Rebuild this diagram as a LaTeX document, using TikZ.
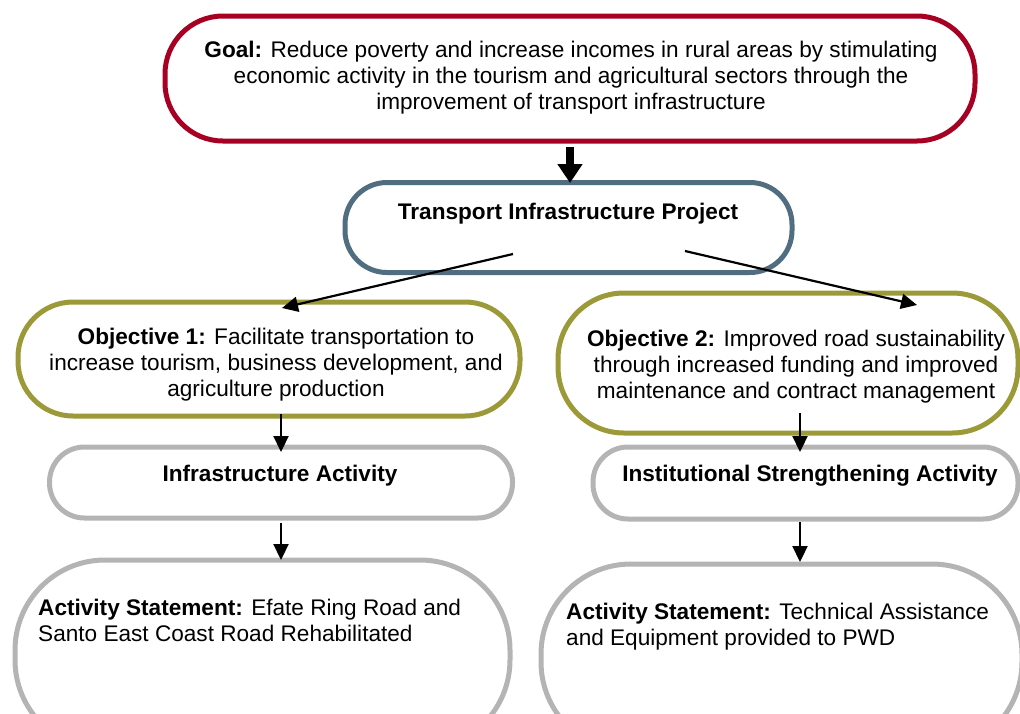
\documentclass[tikz,border=0pt]{standalone}
\usepackage{fontspec}
\setmainfont{Liberation Sans}
\usetikzlibrary{arrows.meta}
\definecolor{goalred}{RGB}{166,0,35}
\definecolor{projblue}{RGB}{80,110,128}
\definecolor{objolive}{RGB}{155,153,56}
\definecolor{actgray}{RGB}{180,180,180}
\tikzset{
  box/.style={draw, line width=5pt, fill=white, inner sep=0pt, outer sep=0pt, rectangle},
  txt/.style={inner sep=0pt, font=\fontsize{22.6}{26}\selectfont, text=black},
  btxt/.style={inner sep=0pt, font=\fontsize{22.6}{26}\selectfont\bfseries, text=black},
  arr/.style={line width=2.2pt, -{Triangle[width=15pt,length=16pt]}},
  bigarr/.style={line width=8pt, -{Triangle[width=24pt,length=19pt]}},
}
\begin{document}
\begin{tikzpicture}[x=1pt,y=-1pt]
\useasboundingbox (0,0) rectangle (1020,713);
\begin{scope}
\clip (0,0) rectangle (1020,713);
% boxes
\node[box, draw=goalred, rounded corners=58pt, minimum width=810pt, minimum height=125pt] (goal) at (570,78.5) {};
\node[box, draw=projblue, rounded corners=42pt, minimum width=447pt, minimum height=90pt] (proj) at (568.5,227.5) {};
\node[box, draw=objolive, rounded corners=55pt, minimum width=502pt, minimum height=114pt] (obj1) at (269,359) {};
\node[box, draw=objolive, rounded corners=66pt, minimum width=460pt, minimum height=140pt] (obj2) at (788,363) {};
\node[box, draw=actgray, rounded corners=35pt, minimum width=463pt, minimum height=71pt] (infra) at (281,482.5) {};
\node[box, draw=actgray, rounded corners=35pt, minimum width=425pt, minimum height=72pt] (inst) at (805.5,483) {};
\node[box, draw=actgray, rounded corners=90pt, minimum width=495pt, minimum height=190pt] (stmt1) at (262.5,655) {};
\node[box, draw=actgray, rounded corners=90pt, minimum width=481pt, minimum height=188pt] (stmt2) at (781.5,658) {};
% texts
\node[txt, align=center] (goaltxt) at (571,78) {\textbf{Goal:} Reduce poverty and increase incomes in rural areas by stimulating\\economic activity in the tourism and agricultural sectors through the\\improvement of transport infrastructure};
\node[btxt] (projtxt) at (568,214) {Transport Infrastructure Project};
\node[txt, align=center] (obj1txt) at (276,365) {\textbf{Objective 1:} Facilitate transportation to\\increase tourism, business development, and\\agriculture production};
\node[txt, align=center] (obj2txt) at (796,367) {\textbf{Objective 2:} Improved road sustainability\\through increased funding and improved\\maintenance and contract management};
\node[btxt] (infratxt) at (280,476) {Infrastructure Activity};
\node[btxt] (insttxt) at (810,476) {Institutional Strengthening Activity};
\node[txt, align=left, anchor=west] (stmt1txt) at (38,620) {\textbf{Activity Statement:} Efate Ring Road and\\Santo East Coast Road Rehabilitated};
\node[txt, align=left, anchor=west] (stmt2txt) at (566,627) {\textbf{Activity Statement:} Technical Assistance\\and Equipment provided to PWD};
% connector points
\coordinate (gA) at (570,147);
\coordinate (gB) at (570,183);
\coordinate (pL) at (513,254);
\coordinate (o1T) at (282,308);
\coordinate (pR) at (685,251);
\coordinate (o2T) at (917,305);
\coordinate (o1B) at (281,414);
\coordinate (iT) at (281,452);
\coordinate (iB) at (281,523);
\coordinate (s1T) at (281,560);
\coordinate (o2B) at (800,413);
\coordinate (nT) at (800,452);
\coordinate (nB) at (800,522);
\coordinate (s2T) at (800,562);
% connectors
\draw[bigarr] (gA) -- (gB);
\draw[arr] (pL) -- (o1T);
\draw[arr] (pR) -- (o2T);
\draw[arr] (o1B) -- (iT);
\draw[arr] (iB) -- (s1T);
\draw[arr] (o2B) -- (nT);
\draw[arr] (nB) -- (s2T);
\end{scope}
\end{tikzpicture}
\end{document}
